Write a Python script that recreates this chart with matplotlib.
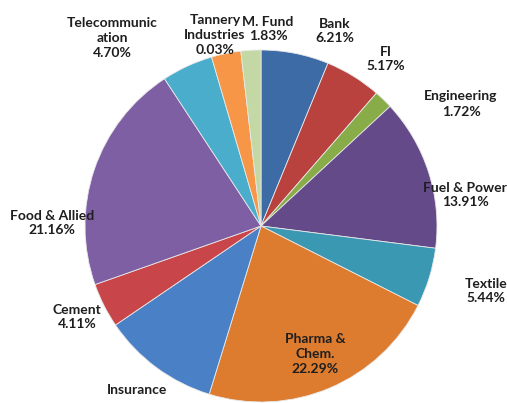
import numpy as np
import matplotlib.pyplot as plt

# sectors, clockwise from 12 o'clock
sectors = ['Bank', 'FI', 'Engineering', 'Fuel & Power', 'Textile',
           'Pharma & Chem.', 'Insurance', 'Cement', 'Food & Allied',
           'Telecommunication', 'Tannery Industries', 'M. Fund']
# slice shares as drawn in the picture (%)
shares = [6.21, 5.17, 1.72, 13.91, 5.44, 22.29, 10.73, 4.11, 21.16, 4.70, 2.70, 1.83]
# label texts as printed on the chart
label_texts = ['Bank\n6.21%', 'FI\n5.17%', 'Engineering\n1.72%', 'Fuel & Power\n13.91%',
               'Textile\n5.44%', 'Pharma &\nChem.\n22.29%', 'Insurance', 'Cement\n4.11%',
               'Food & Allied\n21.16%', 'Telecommunic\nation\n4.70%',
               'Tannery\nIndustries\n0.03%', 'M. Fund\n1.83%']
colors = ['#3D6BA6', '#B9413E', '#88AD48', '#654A8A', '#3A98B2', '#DD7C2F',
          '#4A80C6', '#C8464A', '#7E5FA4', '#49ADCB', '#F79646', '#C4D8A6']

# label positions in pixels (x, y from top)
label_pos = [(335, 31), (386, 59), (461, 104), (465, 195), (486, 291),
             (315, 354), (137, 390), (77, 317), (52, 223), (112, 38),
             (215, 35), (268, 29)]

W, H = 507, 403
fig = plt.figure(figsize=(W / 100, H / 100), dpi=100)
ax = fig.add_axes([0, 0, 1, 1])
ax.set_xlim(0, W)
ax.set_ylim(0, H)
ax.set_aspect('equal')
ax.axis('off')

ax.pie(shares, colors=colors, startangle=90, counterclock=False,
       center=(261, H - 226), radius=176,
       wedgeprops=dict(edgecolor='#e8e8e8', linewidth=0.6))
ax.set_xlim(0, W)
ax.set_ylim(0, H)

for txt, (x, y) in zip(label_texts, label_pos):
    ax.text(x, H - y, txt, ha='center', va='center', fontsize=10,
            fontweight='bold', family='Lato', color='#1e1e1e', linespacing=1.3)

fig.savefig('out.png', dpi=100)
